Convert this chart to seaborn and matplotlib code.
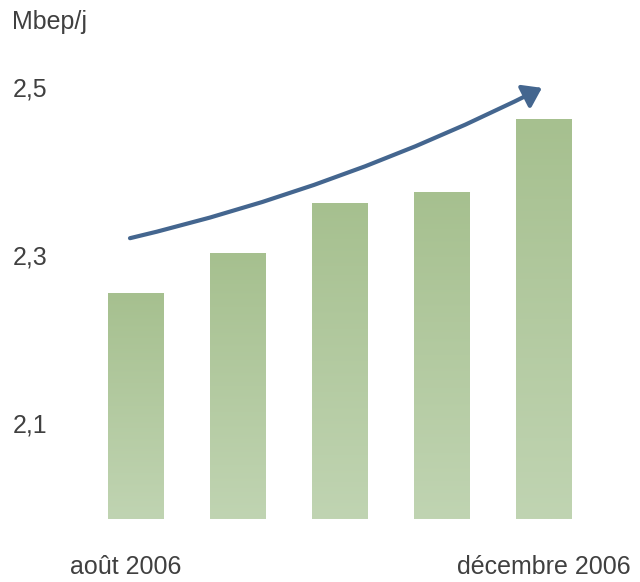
import numpy as np
import pandas as pd
import matplotlib
matplotlib.use("Agg")
import matplotlib.pyplot as plt
import matplotlib.transforms as mtransforms
from matplotlib.patches import FancyArrowPatch
from matplotlib.colors import LinearSegmentedColormap
import seaborn as sns

# Monthly oil output, Mbep/j
months = ["août 2006", "septembre 2006", "octobre 2006", "novembre 2006", "décembre 2006"]
output = [2.255, 2.302, 2.362, 2.375, 2.462]
tick_values = [2.1, 2.3, 2.5]
tick_labels = ["2,1", "2,3", "2,5"]
shown_month_labels = ["août 2006", "", "", "", "décembre 2006"]

sns.set_theme(style="white")
plt.rcParams["font.family"] = ["Liberation Sans", "DejaVu Sans"]

text_color = "#404040"
bar_top = "#a6c08f"
bar_bottom = "#c0d4b2"
arrow_color = "#44668f"

fig = plt.figure(figsize=(6.4, 5.82), dpi=100)
ax = fig.add_axes([85 / 640, 63 / 582, 510 / 640, 474 / 582])

df = pd.DataFrame({"mois": months, "production": output})
sns.barplot(data=df, x="mois", y="production", color=bar_top, width=0.54,
            saturation=1, ax=ax)

ymin, ymax = 1.9857, 2.55
ax.set_ylim(ymin, ymax)
ax.set_xlim(-0.5, 4.5)

# vertical gradient inside each bar
cmap = LinearSegmentedColormap.from_list("grad", [bar_bottom, bar_top])
grad = np.linspace(0, 1, 256).reshape(-1, 1)
for patch in ax.patches:
    x0, w = patch.get_x(), patch.get_width()
    top = patch.get_y() + patch.get_height()
    im = ax.imshow(grad, cmap=cmap, origin="lower", aspect="auto",
                   extent=[x0, x0 + w, ymin, top], zorder=patch.get_zorder() + 0.1)
    im.set_clip_path(patch)
ax.set_xlim(-0.5, 4.5)
ax.set_ylim(ymin, ymax)

for s in ax.spines.values():
    s.set_visible(False)
ax.set_xlabel("")
ax.set_ylabel("")
ax.set_yticks(tick_values)
ax.set_yticklabels(tick_labels)
ax.set_xticks(range(len(months)))
ax.set_xticklabels(shown_month_labels)
ax.tick_params(axis="y", length=0, pad=27, labelsize=18, labelcolor=text_color)
ax.tick_params(axis="x", length=0, pad=26, labelsize=18, labelcolor=text_color)
first = ax.get_xticklabels()[0]
first.set_transform(first.get_transform() +
                    mtransforms.ScaledTranslation(-10 / 100, 0, fig.dpi_scale_trans))

fig.text(12 / 640, 1 - 22 / 582, "Mbep/j", fontsize=18, color=text_color,
         ha="left", va="center")

# growth arrow
arrow = FancyArrowPatch((-0.059, 2.320), (3.98, 2.499),
                        connectionstyle="arc3,rad=0.06",
                        arrowstyle="-|>,head_length=0.55,head_width=0.38",
                        mutation_scale=20, color=arrow_color, lw=3,
                        shrinkA=0, shrinkB=0, zorder=5)
ax.add_patch(arrow)

fig.savefig("out.png", dpi=100, facecolor="white")
